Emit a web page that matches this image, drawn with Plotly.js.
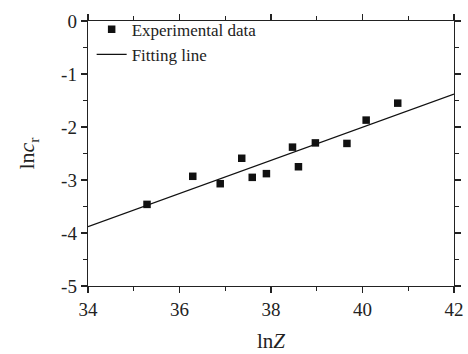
<!DOCTYPE html>
<html>
<head>
<meta charset="utf-8">
<script src="https://cdn.plot.ly/plotly-3.0.1.min.js"></script>
<style>html,body{margin:0;padding:0;background:#fff;}#chart{width:468px;height:354px;}</style>
</head>
<body>
<div id="chart"></div>
<script>
var lnZ = [35.29, 36.29, 36.89, 37.36, 37.59, 37.90, 38.47, 38.60, 38.97, 39.66, 40.08, 40.77];
var lnCr = [-3.46, -2.93, -3.07, -2.59, -2.95, -2.88, -2.38, -2.75, -2.30, -2.31, -1.87, -1.55];
var fitX = [34, 42];
var fitY = [-3.88, -1.38];
var xTicks = [34, 36, 38, 40, 42];
var xTickText = ['34', '36', '38', '40', '42'];
var yTicks = [0, -1, -2, -3, -4, -5];
var yTickText = ['0', '-1', '-2', '-3', '-4', '-5'];

var font = "Liberation Serif, Times New Roman, serif";
var data = [
  {x: lnZ, y: lnCr, mode: 'markers', type: 'scatter', name: 'Experimental data',
   marker: {symbol: 'square', size: 7.5, color: '#111'}},
  {x: fitX, y: fitY, mode: 'lines', type: 'scatter', name: 'Fitting line',
   line: {color: '#111', width: 1.3}}
];
var axisCommon = {
  showgrid: false, zeroline: false, showline: true, linecolor: '#222', linewidth: 1.3,
  mirror: 'ticks', ticks: 'outside', ticklen: 6, tickwidth: 1.2, tickcolor: '#222',
  tickmode: 'array',
  tickfont: {family: font, size: 19, color: '#222'}
};
var layout = {
  width: 468, height: 354,
  margin: {l: 88, r: 14, t: 18, b: 68},
  paper_bgcolor: '#fff', plot_bgcolor: '#fff',
  showlegend: true,
  legend: {x: 0.01, y: 1.035, xanchor: 'left', yanchor: 'top', bgcolor: 'rgba(0,0,0,0)',
    font: {family: font, size: 17, color: '#222'}, tracegroupgap: 0, itemwidth: 30},
  xaxis: Object.assign({}, axisCommon, {range: [34, 42], tickvals: xTicks, ticktext: xTickText,
    minor: {dtick: 1, tick0: 34, ticklen: 4, tickcolor: '#222', ticks: 'outside'},
    title: {text: 'ln<i>Z</i>', font: {family: font, size: 21, color: '#222'}, standoff: 14}}),
  yaxis: Object.assign({}, axisCommon, {range: [-5, 0], tickvals: yTicks, ticktext: yTickText,
    minor: {dtick: 0.5, tick0: 0, ticklen: 4, tickcolor: '#222', ticks: 'outside'},
    title: {text: 'ln<i>c</i><sub>r</sub>', font: {family: font, size: 22, color: '#222'}, standoff: 20}})
};
Plotly.newPlot('chart', data, layout, {displayModeBar: false, staticPlot: true});
</script>
</body>
</html>
